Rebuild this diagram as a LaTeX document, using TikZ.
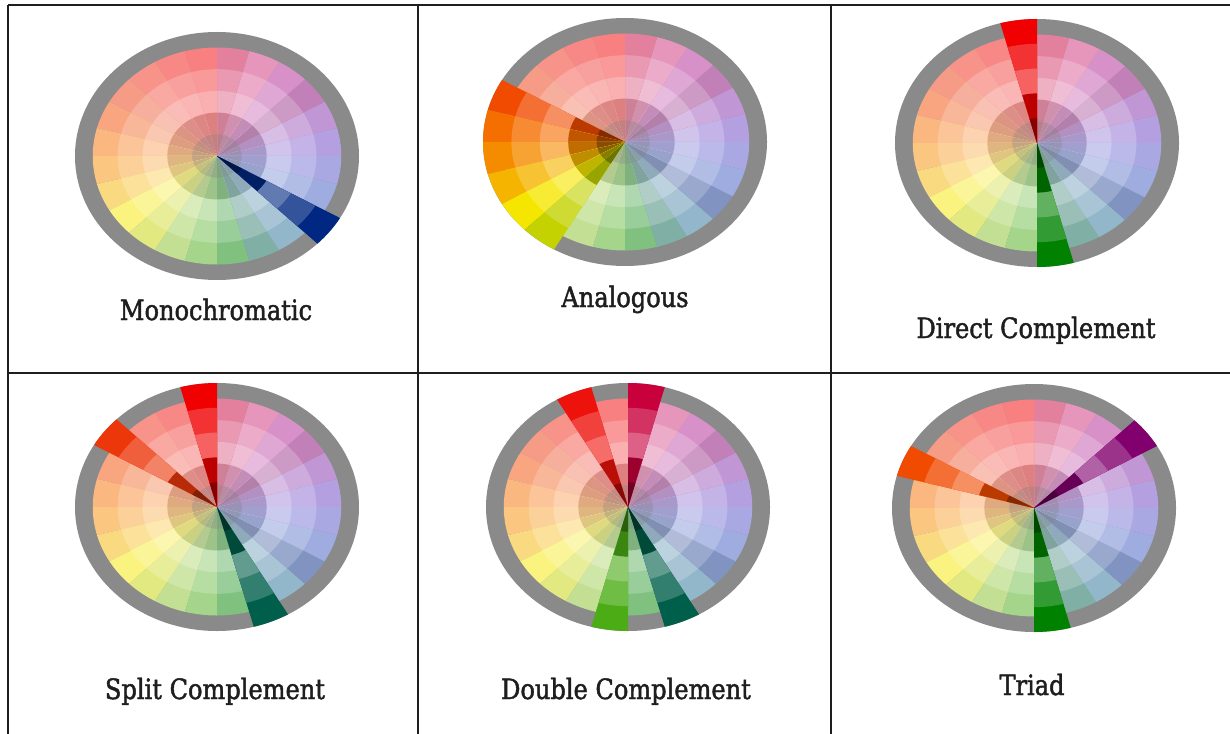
\documentclass[tikz,border=0pt]{standalone}
\usepackage{fontspec}
\setmainfont{DejaVu Serif}
\newfontfamily\capfont[FakeStretch=0.86, FakeBold=1.6]{DejaVu Serif}
\definecolor{ringgray}{RGB}{138,138,138}
\definecolor{gridline}{RGB}{30,30,30}
\definecolor{labeltext}{RGB}{30,30,30}
% base hues, sector k spans [15k,15k+15] degrees
\definecolor{hc0}{RGB}{105,65,195}
\definecolor{hc1}{RGB}{130,45,170}
\definecolor{hc2}{RGB}{130,0,110}
\definecolor{hc3}{RGB}{175,35,145}
\definecolor{hc4}{RGB}{205,45,120}
\definecolor{hc5}{RGB}{200,0,60}
\definecolor{hc6}{RGB}{240,0,0}
\definecolor{hc7}{RGB}{238,18,12}
\definecolor{hc8}{RGB}{240,38,22}
\definecolor{hc9}{RGB}{236,55,10}
\definecolor{hc10}{RGB}{240,75,0}
\definecolor{hc11}{RGB}{245,110,0}
\definecolor{hc12}{RGB}{245,140,0}
\definecolor{hc13}{RGB}{245,180,0}
\definecolor{hc14}{RGB}{245,230,0}
\definecolor{hc15}{RGB}{195,210,0}
\definecolor{hc16}{RGB}{135,192,40}
\definecolor{hc17}{RGB}{75,172,22}
\definecolor{hc18}{RGB}{0,130,0}
\definecolor{hc19}{RGB}{0,95,75}
\definecolor{hc20}{RGB}{40,110,150}
\definecolor{hc21}{RGB}{0,40,130}
\definecolor{hc22}{RGB}{60,90,190}
\definecolor{hc23}{RGB}{85,80,200}
\newcommand\wslice[3]{%
  \fill[#3] (0,0) -- ({15*#1}:#2) arc[start angle={15*#1}, end angle={15*#1+15}, radius=#2] -- cycle;}
\newcommand\wsector[3]{% k, outer radius, wash percent
  \pgfmathsetmacro\rA{#2}\pgfmathsetmacro\rB{0.8*#2}\pgfmathsetmacro\rC{0.6*#2}%
  \pgfmathsetmacro\rD{0.4*#2}\pgfmathsetmacro\rE{0.2*#2}%
  \wslice{#1}{\rA}{hc#1!100!white!#3!white}%
  \wslice{#1}{\rB}{hc#1!80!white!#3!white}%
  \wslice{#1}{\rC}{hc#1!62!white!#3!white}%
  \wslice{#1}{\rD}{hc#1!78!black!#3!white}%
  \wslice{#1}{\rE}{hc#1!55!black!#3!white}}
\newcommand\colorwheel[3]{%
  \begin{scope}[shift={(#1,#2)}, x=106.5pt, y=93pt]
    \fill[ringgray] (0,0) circle[radius=1];
    \foreach \k in {0,...,23}{\wsector{\k}{0.875}{50}}
    \foreach \k in {#3}{\wsector{\k}{1}{100}}
  \end{scope}}
\tikzset{
  caption/.style={anchor=base, text=labeltext, font=\capfont\fontsize{21}{24}\selectfont},
  gridrule/.style={draw=gridline, line width=1.3pt}
}
\begin{document}
\begin{tikzpicture}[x=0.75pt, y=-0.75pt]
\useasboundingbox (0,0) rectangle (1230,734);
\fill[white] (0,0) rectangle (1230,734);
% wheels
\colorwheel{217}{156}{21}
\colorwheel{625}{142}{10,11,12,13,14,15}
\colorwheel{1037}{143}{6,18}
\colorwheel{217}{507}{6,9,19}
\colorwheel{628}{507}{5,7,17,19}
\colorwheel{1034}{508}{2,10,18}
% captions
\node[caption] (mono) at (216,320) {Monochromatic};
\node[caption] (anal) at (625,307) {Analogous};
\node[caption] (dirc) at (1036,338) {Direct Complement};
\node[caption] (splt) at (215,699) {Split Complement};
\node[caption] (dblc) at (626,699) {Double Complement};
\node[caption] (tria) at (1032,695) {Triad};
% grid
\coordinate (tl) at (8,5);
\coordinate (tr) at (1230,5);
\coordinate (bl) at (8,734);
\coordinate (v1t) at (418,5);
\coordinate (v1b) at (418,734);
\coordinate (v2t) at (831,5);
\coordinate (v2b) at (831,734);
\coordinate (ml) at (8,373);
\coordinate (mr) at (1230,373);
\draw[gridrule] (tl) -- (tr);
\draw[gridrule] (tl) -- (bl);
\draw[gridrule] (v1t) -- (v1b);
\draw[gridrule] (v2t) -- (v2b);
\draw[gridrule] (ml) -- (mr);
\end{tikzpicture}
\end{document}
